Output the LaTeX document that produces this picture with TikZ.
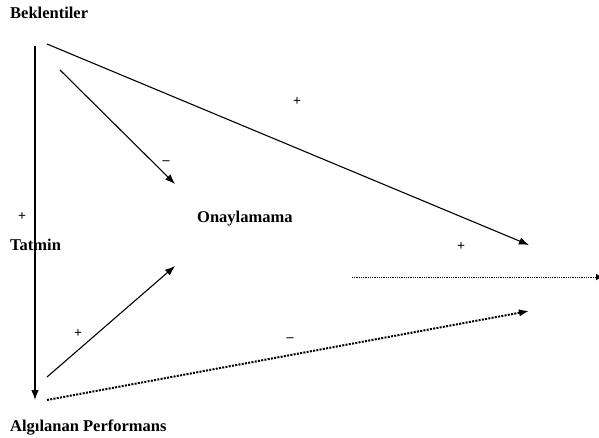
\documentclass[tikz,border=0pt]{standalone}
\usepackage{fontspec}
\setmainfont{Liberation Serif}
\usetikzlibrary{arrows.meta}
\begin{document}
\begin{tikzpicture}[x=1pt,y=-1pt,
  lbl/.style={font=\fontsize{16.5}{18}\selectfont\bfseries, inner sep=0pt, anchor=base west},
  sgn/.style={font=\fontsize{14}{16}\selectfont\bfseries, inner sep=0pt},
  arr/.style={line width=1.1pt, -{Latex[length=10pt,width=7.5pt]}},
  dotarr/.style={line width=2pt, dash pattern=on 2pt off 1.3pt, -{Latex[length=10pt,width=7.5pt]}},
  thindot/.style={line width=1pt, dash pattern=on 1pt off 0.8pt, -{Latex[length=6pt,width=7pt]}}]
\useasboundingbox (0,0) rectangle (599,437);
\node[lbl] (bek) at (10,18) {Beklentiler};
\node[lbl] (tat) at (10,250) {Tatmin};
\node[lbl] (ona) at (197,222) {Onaylamama};
\node[lbl] (alg) at (10,431) {Algılanan Performans};
\coordinate (v1) at (35,46);
\coordinate (v2) at (35,400);
\coordinate (d1) at (47,44);
\coordinate (d2) at (529,245);
\coordinate (s1) at (60,70);
\coordinate (s2) at (175,184);
\coordinate (l1) at (47,377);
\coordinate (l2) at (175,266);
\coordinate (p1) at (47,400);
\coordinate (p2) at (529,311);
\coordinate (h1) at (352,277);
\coordinate (h2) at (602,277);
\draw[arr] (v1) -- (v2);
\draw[arr] (d1) -- (d2);
\draw[arr] (s1) -- (s2);
\draw[arr] (l1) -- (l2);
\draw[dotarr] (p1) -- (p2);
\draw[thindot] (h1) -- (h2);
\node[sgn] (pl1) at (297,102) {+};
\node[sgn] (mi1) at (166,163) {–};
\node[sgn] (pl2) at (22,217) {+};
\node[sgn] (pl3) at (461,247) {+};
\node[sgn] (pl4) at (78,334) {+};
\node[sgn] (mi2) at (290,340) {–};
\end{tikzpicture}
\end{document}
